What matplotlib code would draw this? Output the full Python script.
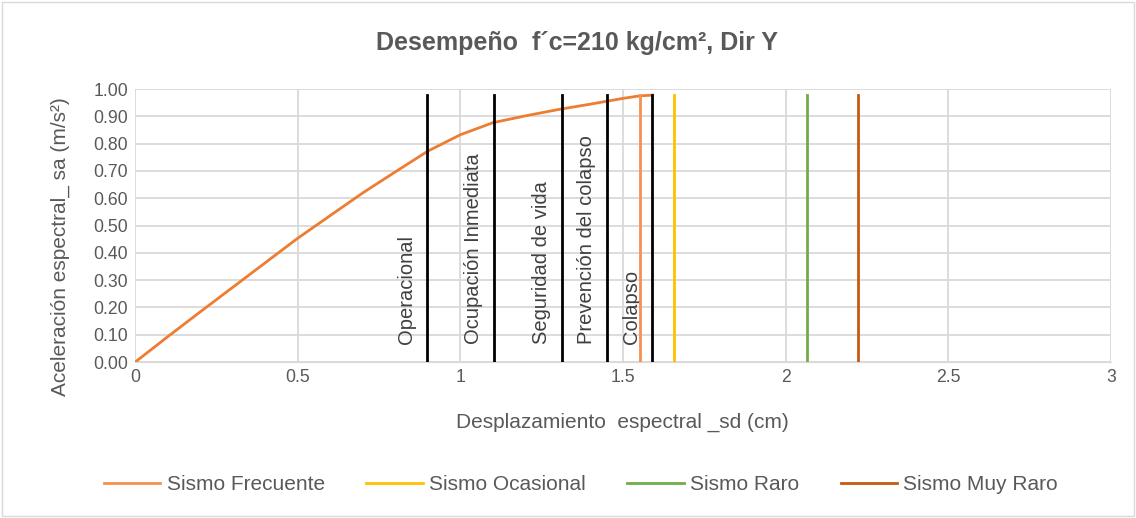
import numpy as np
import matplotlib.pyplot as plt
from matplotlib.patches import Rectangle

plt.rcParams['font.family'] = ['Liberation Sans', 'DejaVu Sans']

# Curva de capacidad
sd = [0, 0.1, 0.2, 0.3, 0.4, 0.5, 0.6, 0.7, 0.8, 0.9, 1.0, 1.1, 1.2, 1.3, 1.4, 1.5, 1.55, 1.59]
sa = [0, 0.093, 0.184, 0.274, 0.364, 0.454, 0.537, 0.620, 0.697, 0.773, 0.833, 0.877, 0.902, 0.925, 0.945, 0.966, 0.975, 0.978]

# Niveles de desempeño
niveles = ['Operacional', 'Ocupación Inmediata', 'Seguridad de vida', 'Prevención del colapso', 'Colapso']
sd_niveles = [0.898, 1.104, 1.313, 1.451, 1.589]

# Demandas sísmicas
sismos = ['Sismo Frecuente', 'Sismo Ocasional', 'Sismo Raro', 'Sismo Muy Raro']
sd_sismos = [1.552, 1.657, 2.066, 2.222]
colores = ['#f4924e', '#ffc000', '#70ad47', '#c55a11']
sa_top = 0.978

fig = plt.figure(figsize=(11.36, 5.18), dpi=100)
fig.patches.append(Rectangle((0.002, 0.004), 0.996, 0.992, transform=fig.transFigure,
                             fill=False, edgecolor='#d9d9d9', lw=1))
ax = fig.add_axes([0.119, 0.301, 0.859, 0.527])

ax.plot(sd, sa, color='#ed7d31', lw=2, zorder=3)

for x in sd_niveles:
    ax.plot([x, x], [0, sa_top], color='black', lw=2, zorder=4)
for nombre, x in zip(niveles, sd_niveles):
    ax.text(x - 0.035, 0.065, nombre, rotation=90, ha='right', va='bottom',
            fontsize=14.5, color='#404040')

lineas = []
for nombre, x, c in zip(sismos, sd_sismos, colores):
    l, = ax.plot([x, x], [0, sa_top], color=c, lw=2, zorder=4, label=nombre)
    lineas.append(l)

ax.set_xlim(0, 3)
ax.set_ylim(0, 1)
ax.set_xticks(np.arange(0, 3.01, 0.5))
ax.set_xticklabels(['0', '0.5', '1', '1.5', '2', '2.5', '3'])
ax.set_yticks(np.arange(0, 1.01, 0.1))
ax.set_yticklabels(['%.2f' % v for v in np.arange(0, 1.01, 0.1)])
ax.grid(True, color='#d9d9d9', lw=1.3)
ax.set_axisbelow(True)
for s in ['top', 'right', 'left']:
    ax.spines[s].set_visible(False)
ax.spines['bottom'].set_color('#d9d9d9')
ax.tick_params(length=0, labelsize=12.7, labelcolor='#595959', pad=5)

fig.text(622 / 1136, 1 - 422 / 518, 'Desplazamiento  espectral _sd (cm)', ha='center', va='center',
         fontsize=15, color='#595959')
fig.text(60 / 1136, 1 - 247 / 518, 'Aceleración espectral_ sa (m/s²)', ha='center', va='center',
         rotation=90, fontsize=15, color='#595959')
fig.text(577 / 1136, 1 - 43 / 518, 'Desempeño  f´c=210 kg/cm², Dir Y', ha='center', va='center',
         fontsize=18, fontweight='bold', color='#595959')

fig.legend(handles=lineas, loc='center', bbox_to_anchor=(581 / 1136, 1 - 485 / 518), ncol=4,
           frameon=False, fontsize=15, labelcolor='#595959', columnspacing=2.0,
           handlelength=2.7, handletextpad=0.3)

fig.savefig('out.png', dpi=100)
